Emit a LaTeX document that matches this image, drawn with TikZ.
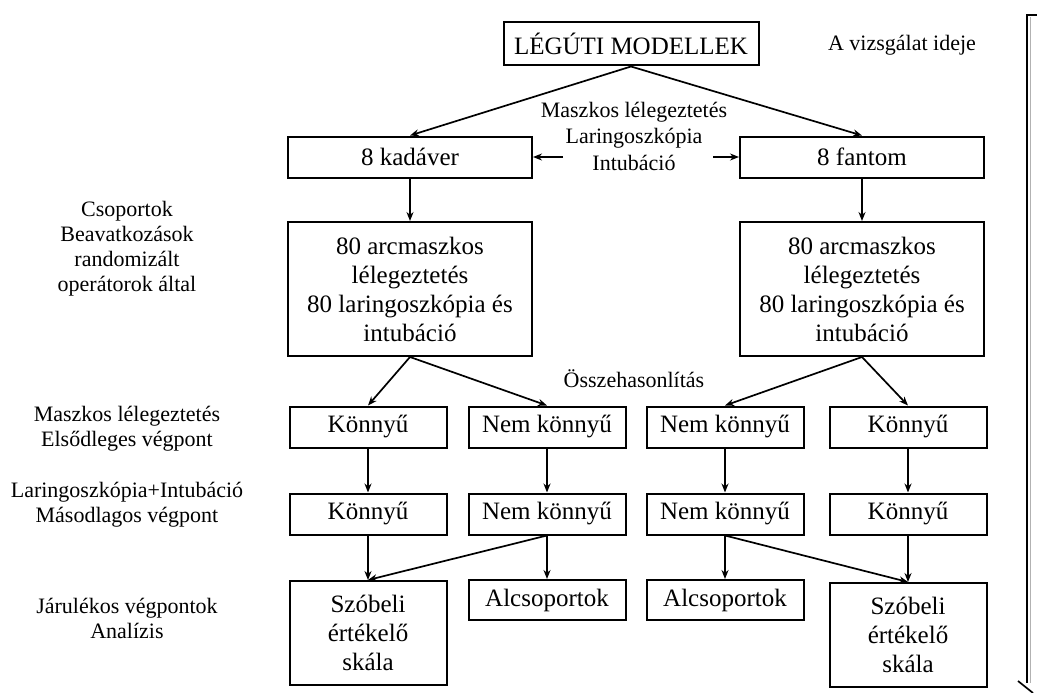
\documentclass[tikz,border=0pt]{standalone}
\usepackage{fontspec}
\setmainfont{Liberation Serif}
\usetikzlibrary{arrows.meta}
\begin{document}
\begin{tikzpicture}[x=1pt,y=-1pt,
  font=\fontsize{22}{25}\selectfont,
  box/.style={draw, line width=2pt, align=center, inner sep=0pt,
              font=\fontsize{25}{29}\selectfont},
  wide/.style={box, minimum width=244pt},
  narrow/.style={box, minimum width=157pt, minimum height=41pt},
  label/.style={align=center, inner sep=0pt},
  arr/.style={line width=1.7pt, -{Stealth[length=9pt,width=7pt]}},
  lin/.style={line width=1.7pt}
]
\useasboundingbox (0,0) rectangle (1037,693);

% top level
\node[box, minimum width=255pt, minimum height=43pt] (top) at (631,44) {LÉGÚTI MODELLEK};
\node[label] (time) at (902,45) {A vizsgálat ideje};

% models
\node[wide, minimum height=41pt] (kad) at (410,157) {8 kadáver};
\node[wide, minimum height=41pt] (fan) at (862,157) {8 fantom};
\node[label, font=\fontsize{22}{26.5}\selectfont] (proc) at (634,136) {Maszkos lélegeztetés\\Laringoszkópia\\Intubáció};
\coordinate (procL) at (563,157);
\coordinate (procR) at (713,157);

% groups
\node[wide, minimum height=134pt] (grpL) at (410,289) {80 arcmaszkos\\lélegeztetés\\80 laringoszkópia és\\intubáció};
\node[wide, minimum height=134pt] (grpR) at (862,289) {80 arcmaszkos\\lélegeztetés\\80 laringoszkópia és\\intubáció};
\node[label] (cmp) at (634,379) {Összehasonlítás};

% primary endpoint
\node[narrow] (p1) at (368,427) {Könnyű};
\node[narrow] (p2) at (547,427) {Nem könnyű};
\node[narrow] (p3) at (725,427) {Nem könnyű};
\node[narrow] (p4) at (908,427) {Könnyű};

% secondary endpoint
\node[narrow] (s1) at (368,514) {Könnyű};
\node[narrow] (s2) at (547,514) {Nem könnyű};
\node[narrow] (s3) at (725,514) {Nem könnyű};
\node[narrow] (s4) at (908,514) {Könnyű};

% additional endpoints
\node[box, minimum width=157pt, minimum height=104pt] (a1) at (368,633) {Szóbeli\\értékelő\\skála};
\node[narrow, minimum height=40pt] (a2) at (547,600) {Alcsoportok};
\node[narrow, minimum height=40pt] (a3) at (725,600) {Alcsoportok};
\node[box, minimum width=157pt, minimum height=104pt] (a4) at (908,635) {Szóbeli\\értékelő\\skála};

% row labels
\node[label] (l1) at (127,249) {Csoportok\\Beavatkozások\\randomizált\\operátorok által};
\node[label] (l2) at (127,429) {Maszkos lélegeztetés\\Elsődleges végpont};
\node[label] (l3) at (127,505) {Laringoszkópia+Intubáció\\Másodlagos végpont};
\node[label] (l4) at (127,618) {Járulékos végpontok\\Analízis};

% connectors
\draw[arr] (top.south) -- (kad.north);
\draw[arr] (top.south) -- (fan.north);
\draw[arr] (procL) -- (kad.east);
\draw[arr] (procR) -- (fan.west);
\draw[arr] (kad) -- (grpL);
\draw[arr] (fan) -- (grpR);
\draw[arr] (grpL.south) -- (p1.north);
\draw[arr] (grpL.south) -- (p2.north);
\draw[arr] (grpR.south) -- (p3.north);
\draw[arr] (grpR.south) -- (p4.north);
\draw[arr] (p1) -- (s1);
\draw[arr] (p2) -- (s2);
\draw[arr] (p3) -- (s3);
\draw[arr] (p4) -- (s4);
\draw[arr] (s1) -- (a1);
\draw[arr] (s2.south) -- (a1.north);
\draw[arr] (s2) -- (a2);
\draw[arr] (s3) -- (a3);
\draw[arr] (s3.south) -- (a4.north);
\draw[arr] (s4) -- (a4);

% time axis on the right
\coordinate (axT) at (1037,15);
\coordinate (axC) at (1027,15);
\coordinate (axB) at (1027,683);
\coordinate (tipA) at (1018,681);
\coordinate (tipB) at (1033,693);
\draw[gray!60, line width=1pt] (1030,17) -- (1030,683);
\draw[lin] (axT) -- (axC) -- (axB);
\draw[lin] (tipA) -- (tipB);
\end{tikzpicture}
\end{document}
